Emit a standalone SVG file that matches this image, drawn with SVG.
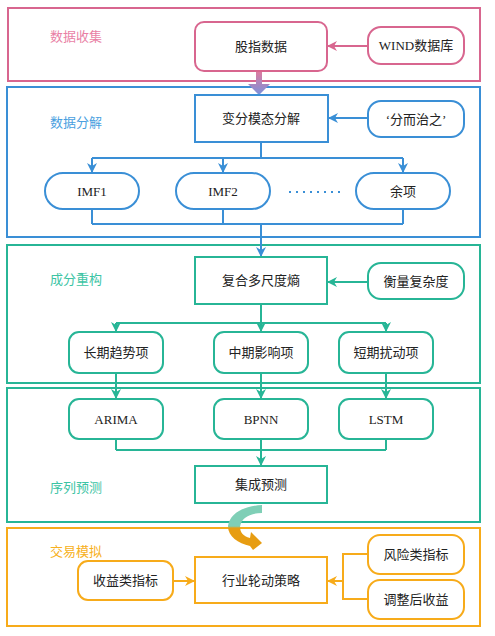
<svg xmlns="http://www.w3.org/2000/svg" width="495" height="636" viewBox="0 0 495 636">
<style>
.sec{fill:none;stroke-width:2}
.pk{stroke:#d8668f}
.bl{stroke:#3a8fd6}
.tl{stroke:#27b596}
.or{stroke:#f7ab1a}
.node{fill:#fff;stroke-width:2}
.t{font-family:"Liberation Serif","Noto Sans CJK SC",serif;font-size:13px;fill:#222;text-anchor:middle}
.title{font-family:"Noto Sans CJK SC",sans-serif;font-size:13px}
.c{fill:none;stroke-width:2}
</style>
<defs>
<marker id="aBl" markerWidth="10" markerHeight="10" refX="9" refY="5" orient="auto" markerUnits="userSpaceOnUse"><path d="M0,0 L10,5 L0,10 L3,5 Z" fill="#3a8fd6"/></marker>
<marker id="aPk" markerWidth="10" markerHeight="10" refX="9" refY="5" orient="auto" markerUnits="userSpaceOnUse"><path d="M0,0 L10,5 L0,10 L3,5 Z" fill="#d8668f"/></marker>
<marker id="aTl" markerWidth="10" markerHeight="10" refX="9" refY="5" orient="auto" markerUnits="userSpaceOnUse"><path d="M0,0 L10,5 L0,10 L3,5 Z" fill="#27b596"/></marker>
<marker id="aOr" markerWidth="10" markerHeight="10" refX="9" refY="5" orient="auto" markerUnits="userSpaceOnUse"><path d="M0,0 L10,5 L0,10 L3,5 Z" fill="#f7ab1a"/></marker>
<linearGradient id="gPk" x1="0" y1="71" x2="0" y2="95" gradientUnits="userSpaceOnUse"><stop offset="0" stop-color="#e07a9e"/><stop offset="1" stop-color="#7a92dc"/></linearGradient>
<linearGradient id="gCurve" x1="0" y1="505" x2="0" y2="551" gradientUnits="userSpaceOnUse"><stop offset="0" stop-color="#7fcfb6"/><stop offset="0.46" stop-color="#7fcfb6"/><stop offset="0.5" stop-color="#e79d12"/><stop offset="1" stop-color="#e79d12"/></linearGradient>
</defs>

<g id="sections">
<rect class="sec pk" x="8" y="8" width="472" height="73"/>
<rect class="sec bl" x="7" y="87" width="473" height="150"/>
<rect class="sec tl" x="7" y="245" width="473" height="138"/>
<rect class="sec tl" x="7" y="388" width="473" height="134"/>
<rect class="sec or" x="7" y="528" width="473" height="98"/>
<text class="title" x="50" y="41" fill="#e97fa5">数据收集</text>
<text class="title" x="50" y="127" fill="#4a9fe0">数据分解</text>
<text class="title" x="50" y="284" fill="#3cc4a4">成分重构</text>
<text class="title" x="50" y="492" fill="#3cc4a4">序列预测</text>
<text class="title" x="50" y="556" fill="#f7b020">交易模拟</text>
</g>

<g id="connectors">
<path class="c pk" d="M368,46 L328,46" marker-end="url(#aPk)"/>
<path d="M256,71 H262 V84 H270 L259,95 L248,84 H256 Z" fill="url(#gPk)"/>
<path class="c bl" d="M368,118 L329,118" marker-end="url(#aBl)"/>
<path class="c bl" d="M261,142 V158 M92,158 H403"/>
<path class="c bl" d="M92,158 V172" marker-end="url(#aBl)"/>
<path class="c bl" d="M223,158 V172" marker-end="url(#aBl)"/>
<path class="c bl" d="M403,158 V172" marker-end="url(#aBl)"/>
<path class="c bl" d="M289,192 H344" stroke-dasharray="2 5"/>
<path class="c bl" d="M92,209 V224 M223,209 V224 M403,209 V224 M92,224 H403"/>
<path class="c bl" d="M261,224 V256" marker-end="url(#aBl)"/>
<path class="c tl" d="M368,282 L328,282" marker-end="url(#aTl)"/>
<path class="c tl" d="M261,304 V323 M116,323 H386"/>
<path class="c tl" d="M116,323 V331" marker-end="url(#aTl)"/>
<path class="c tl" d="M261,323 V331" marker-end="url(#aTl)"/>
<path class="c tl" d="M386,323 V331" marker-end="url(#aTl)"/>
<path class="c tl" d="M116,373 V398" marker-end="url(#aTl)"/>
<path class="c tl" d="M261,373 V398" marker-end="url(#aTl)"/>
<path class="c tl" d="M386,373 V398" marker-end="url(#aTl)"/>
<path class="c tl" d="M116,439 V450 M261,439 V450 M386,439 V450 M116,450 H386"/>
<path class="c tl" d="M261,450 V465" marker-end="url(#aTl)"/>
<path d="M262,505 C244,506 230,513 228,526 C228,537 238,543 250,546 L253,550 L262,543 L251,532 L250,538 C243,536 240,532 240,527 C241,518 250,513 262,513 Z" fill="url(#gCurve)"/>
<path class="c or" d="M173,581 L194,581" marker-end="url(#aOr)"/>
<path class="c or" d="M368,554 H343 V599 H368"/>
<path class="c or" d="M343,581 H328" marker-end="url(#aOr)"/>
</g>

<g id="n-guzhi"><rect class="node pk" x="195" y="22" width="132" height="49" rx="9"/><text class="t" x="261" y="51">股指数据</text></g>
<g id="n-wind"><rect class="node pk" x="368" y="27" width="96" height="37" rx="13"/><text class="t" x="416" y="50">WIND数据库</text></g>

<g id="n-vmd"><rect class="node bl" x="195" y="95" width="133" height="47"/><text class="t" x="261" y="123">变分模态分解</text></g>
<g id="n-fenerzhi"><rect class="node bl" x="368" y="101" width="96" height="36" rx="13"/><text class="t" x="416" y="124">‘分而治之’</text></g>
<g id="n-imf1"><rect class="node bl" x="45" y="173" width="94" height="36" rx="18"/><text class="t" x="92" y="196">IMF1</text></g>
<g id="n-imf2"><rect class="node bl" x="176" y="173" width="94" height="36" rx="18"/><text class="t" x="223" y="196">IMF2</text></g>
<g id="n-yuxiang"><rect class="node bl" x="356" y="173" width="94" height="36" rx="18"/><text class="t" x="403" y="196">余项</text></g>

<g id="n-entropy"><rect class="node tl" x="195" y="257" width="132" height="47"/><text class="t" x="261" y="285">复合多尺度熵</text></g>
<g id="n-complex"><rect class="node tl" x="368" y="263" width="96" height="36" rx="13"/><text class="t" x="416" y="286">衡量复杂度</text></g>
<g id="n-long"><rect class="node tl" x="69" y="332" width="94" height="41" rx="10"/><text class="t" x="116" y="357">长期趋势项</text></g>
<g id="n-mid"><rect class="node tl" x="214" y="332" width="94" height="41" rx="10"/><text class="t" x="261" y="357">中期影响项</text></g>
<g id="n-short"><rect class="node tl" x="339" y="332" width="94" height="41" rx="10"/><text class="t" x="386" y="357">短期扰动项</text></g>

<g id="n-arima"><rect class="node tl" x="69" y="399" width="94" height="40" rx="10"/><text class="t" x="116" y="424">ARIMA</text></g>
<g id="n-bpnn"><rect class="node tl" x="214" y="399" width="94" height="40" rx="10"/><text class="t" x="261" y="424">BPNN</text></g>
<g id="n-lstm"><rect class="node tl" x="339" y="399" width="94" height="40" rx="10"/><text class="t" x="386" y="424">LSTM</text></g>
<g id="n-ensemble"><rect class="node tl" x="195" y="466" width="132" height="37"/><text class="t" x="261" y="489">集成预测</text></g>

<g id="n-return"><rect class="node or" x="78" y="561" width="95" height="39" rx="10"/><text class="t" x="125.5" y="585">收益类指标</text></g>
<g id="n-strategy"><rect class="node or" x="195" y="557" width="132" height="46"/><text class="t" x="261" y="585">行业轮动策略</text></g>
<g id="n-risk"><rect class="node or" x="368" y="535" width="96" height="39" rx="12"/><text class="t" x="416" y="559">风险类指标</text></g>
<g id="n-adjusted"><rect class="node or" x="368" y="580" width="96" height="39" rx="12"/><text class="t" x="416" y="604">调整后收益</text></g>
</svg>
